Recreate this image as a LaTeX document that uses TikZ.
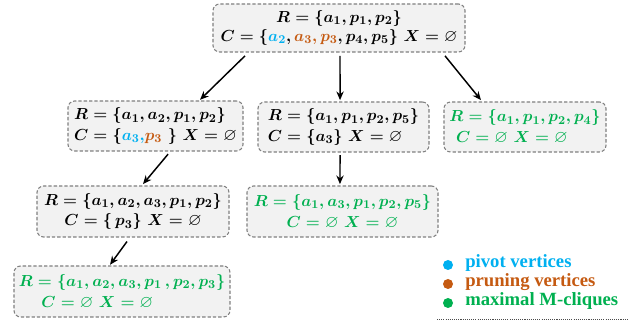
\documentclass[tikz,border=0pt]{standalone}
\usepackage{amssymb}
\usepackage{fontspec}
\newfontfamily\legendfont{Liberation Serif}
\usetikzlibrary{arrows.meta}
\definecolor{pivot}{HTML}{00B0F0}
\definecolor{prune}{HTML}{C55A11}
\definecolor{mgreen}{HTML}{00B050}
\definecolor{boxfill}{HTML}{F2F2F2}
\definecolor{boxline}{HTML}{7F7F7F}
\begin{document}
\begin{tikzpicture}[x=0.75pt,y=-0.75pt,
  sbox/.style={draw=boxline, dash pattern=on 2.5pt off 1.5pt, fill=boxfill,
    rounded corners=5pt, line width=0.8pt, inner sep=0pt,
    font=\fontsize{13}{15.5}\selectfont\boldmath},
  arr/.style={-{Stealth[length=6.5pt,width=5.5pt]}, line width=1.1pt},
  dot/.style={circle, inner sep=0pt, minimum size=7.5pt},
  legtext/.style={anchor=mid west, inner sep=0pt, font=\legendfont\bfseries\fontsize{14}{16}\selectfont},
]
\useasboundingbox (0,0) rectangle (636,327);

\node[sbox, align=center, minimum width=189pt, minimum height=36pt,
      font=\fontsize{12.8}{14.2}\selectfont\boldmath] (top) at (339,28)
  {$R=\{a_1,p_1,p_2\}$\\
   $C=\{{\color{pivot}a_2},{\color{prune}a_3,p_3},p_4,p_5\}\ X=\varnothing$};

\node[sbox, align=left, minimum width=131.25pt, minimum height=37.5pt] (b2l) at (155.5,126)
  {$R=\{a_1,a_2,p_1,p_2\}$\\
   $C=\{{\color{pivot}a_3,}{\color{prune}p_3}\ \}\ X=\varnothing$};

\node[sbox, align=left, minimum width=128.25pt, minimum height=37.5pt] (b2m) at (343.5,127)
  {$R=\{a_1,p_1,p_2,p_5\}$\\
   $C=\{a_3\}\ X=\varnothing$};

\node[sbox, align=left, text=mgreen, minimum width=121.5pt, minimum height=37.5pt] (b2r) at (525,127)
  {$R=\{a_1,p_1,p_2,p_4\}$\\
   \hspace*{5pt}$C=\varnothing\ X=\varnothing$};

\node[sbox, align=center, minimum width=144pt, minimum height=38.25pt] (b3l) at (133,211.5)
  {$R=\{a_1,a_2,a_3,p_1,p_2\}$\\
   $C=\{\,p_3\}\ X=\varnothing$};

\node[sbox, align=center, text=mgreen, minimum width=143.25pt, minimum height=38.25pt] (b3m) at (342.5,211.5)
  {$R=\{a_1,a_3,p_1,p_2,p_5\}$\\
   $C=\varnothing\ X=\varnothing$};

\node[sbox, align=left, text=mgreen, minimum width=162pt, minimum height=38.25pt] (b4) at (122,291.5)
  {$R=\{a_1,a_2,a_3,p_1\,,p_2,p_3\}$\\
   \hspace*{17pt}$C=\varnothing\ X=\varnothing$};

% arrows
\draw[arr] ([xshift=-70.5pt,yshift=-2.5pt]top.south) -- ([xshift=33.4pt,yshift=0.5pt]b2l.north);
\draw[arr] ([xshift=0.75pt,yshift=-2.5pt]top.south) -- ([xshift=-2.6pt,yshift=1pt]b2m.north);
\draw[arr] ([xshift=79.5pt,yshift=-2.5pt]top.south) -- ([xshift=-33pt,yshift=1pt]b2r.north);
\draw[arr] ([xshift=9.4pt,yshift=-2pt]b2l.south) -- ([xshift=7.5pt,yshift=1pt]b3l.north);
\draw[arr] ([xshift=-2.6pt,yshift=-2pt]b2m.south) -- ([xshift=-1.9pt,yshift=1pt]b3m.north);
\draw[arr] ([xshift=-4.5pt,yshift=-3pt]b3l.south) -- ([xshift=-9pt,yshift=0.5pt]b4.north);

% legend
\node[dot, fill=pivot] (d1) at (448,265) {};
\node[dot, fill=prune] (d2) at (448,284) {};
\node[dot, fill=mgreen] (d3) at (448,303) {};
\node[legtext, text=pivot] (l1) at (465,265) {pivot vertices};
\node[legtext, text=prune] (l2) at (465,284) {pruning vertices};
\node[legtext, text=mgreen] (l3) at (465,303) {maximal M-cliques};
\coordinate (ls) at (437,319);
\coordinate (le) at (628,319);
\draw[black!70, line width=0.6pt, dash pattern=on 0.8pt off 0.8pt] (ls) -- (le);
\end{tikzpicture}
\end{document}
